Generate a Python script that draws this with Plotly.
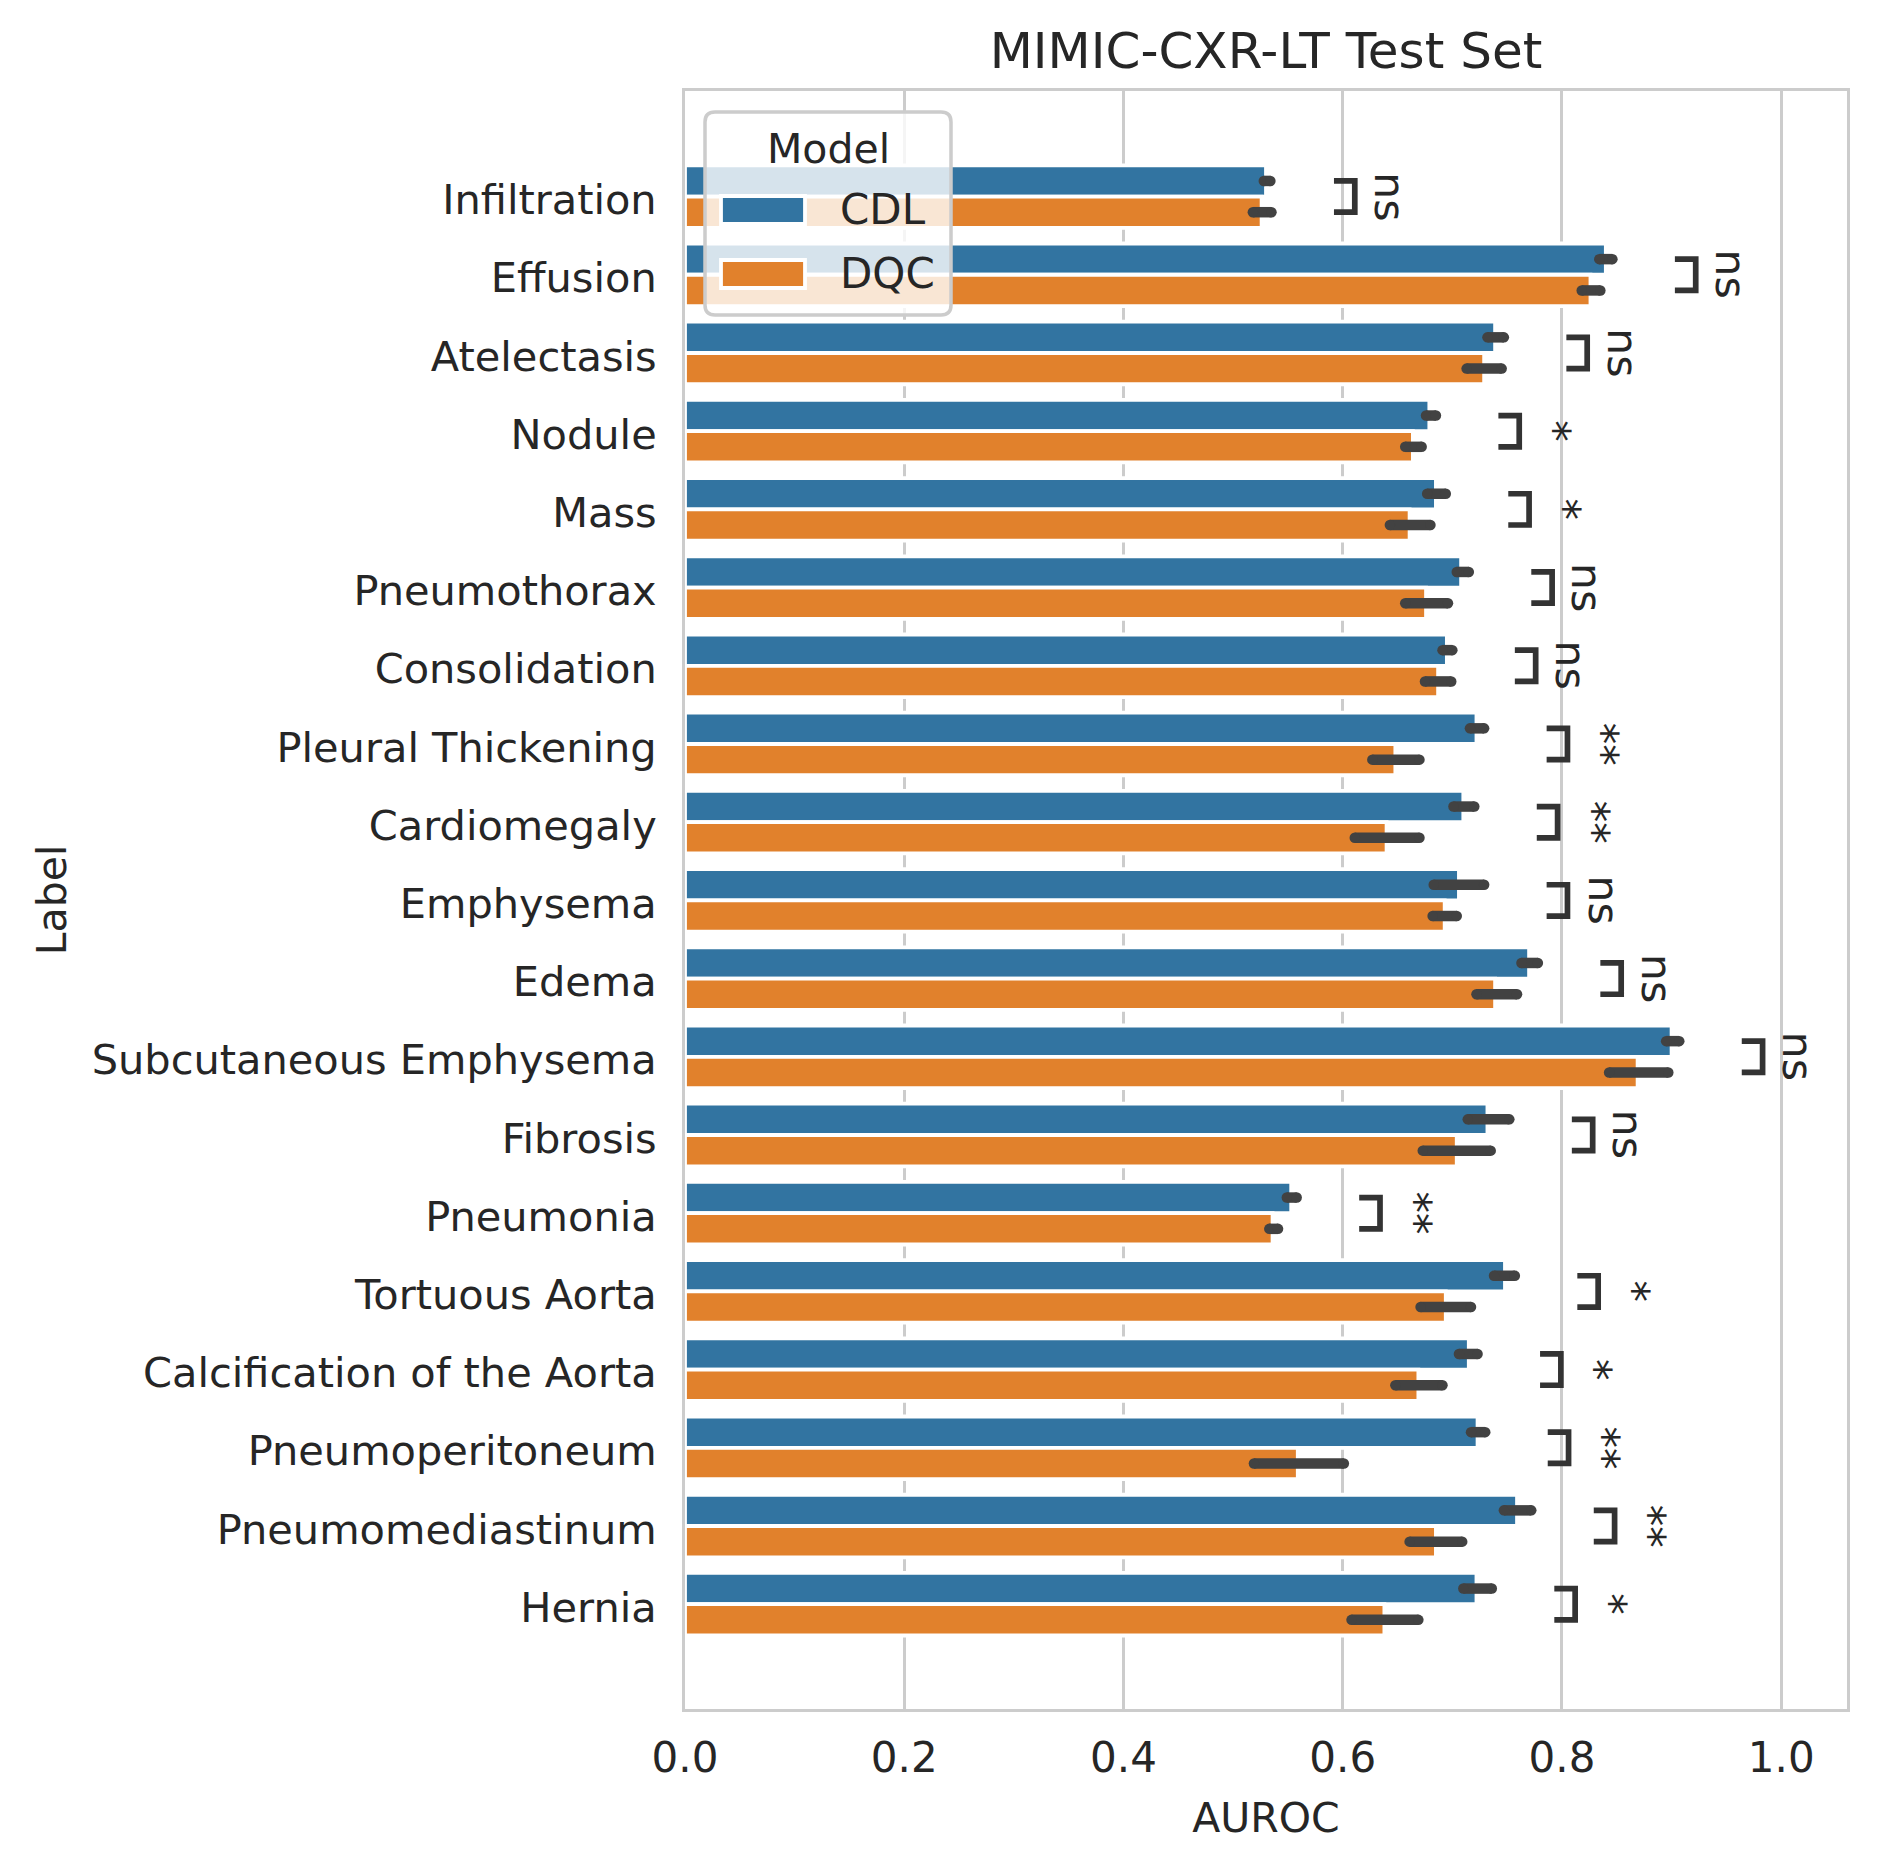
import plotly.graph_objects as go

# ---------------- data ----------------
labels = ["Infiltration", "Effusion", "Atelectasis", "Nodule", "Mass", "Pneumothorax",
          "Consolidation", "Pleural Thickening", "Cardiomegaly", "Emphysema", "Edema",
          "Subcutaneous Emphysema", "Fibrosis", "Pneumonia", "Tortuous Aorta",
          "Calcification of the Aorta", "Pneumoperitoneum", "Pneumomediastinum", "Hernia"]
models = ["CDL", "DQC"]
cdl_mean = [0.530, 0.840, 0.739, 0.679, 0.685, 0.708, 0.695, 0.722, 0.710, 0.706, 0.770,
            0.900, 0.732, 0.553, 0.748, 0.715, 0.723, 0.759, 0.722]
cdl_lo = [0.528, 0.834, 0.732, 0.676, 0.677, 0.704, 0.691, 0.716, 0.701, 0.683, 0.763,
          0.895, 0.714, 0.549, 0.738, 0.706, 0.717, 0.747, 0.710]
cdl_hi = [0.534, 0.846, 0.747, 0.685, 0.694, 0.715, 0.700, 0.729, 0.720, 0.729, 0.778,
          0.907, 0.752, 0.558, 0.757, 0.723, 0.730, 0.772, 0.736]
dqc_mean = [0.526, 0.826, 0.729, 0.664, 0.661, 0.676, 0.687, 0.648, 0.640, 0.693, 0.739,
            0.869, 0.704, 0.536, 0.694, 0.669, 0.559, 0.685, 0.638]
dqc_lo = [0.518, 0.818, 0.713, 0.657, 0.643, 0.657, 0.675, 0.627, 0.611, 0.682, 0.722,
          0.843, 0.673, 0.533, 0.671, 0.648, 0.519, 0.661, 0.608]
dqc_hi = [0.535, 0.835, 0.745, 0.672, 0.680, 0.696, 0.699, 0.670, 0.670, 0.704, 0.759,
          0.897, 0.735, 0.541, 0.717, 0.691, 0.601, 0.709, 0.669]
sig = ["ns", "ns", "ns", "*", "*", "ns", "ns", "**", "**", "ns", "ns", "ns", "ns", "**",
       "*", "*", "**", "**", "*"]
x_ticks = [0.0, 0.2, 0.4, 0.6, 0.8, 1.0]

# ---------------- geometry (page pixels; the page body has an 8px margin) ----------------
OFF = 8
W, H = 1877 - 2 * OFF, 1869 - 2 * OFF
PL, PR, PT, PB = 685 - OFF, 1847 - OFF, 91 - OFF, 1709 - OFF
ML, MR, MT, MB = PL, W - PR, PT, H - PB
BLUE, ORANGE = "#3274A1", "#E1812C"
TXT, GRID, ERR, BRK = "#262626", "#cccccc", "#424242", "#333333"
FONT = "DejaVu Sans"

pos = list(range(len(labels)))
fig = go.Figure()

for name, m, color in [(models[0], cdl_mean, BLUE), (models[1], dqc_mean, ORANGE)]:
    fig.add_trace(go.Bar(y=pos, x=m, orientation="h", name=name, showlegend=False,
                         marker=dict(color=color, line=dict(color="white", width=3.8))))

# error bars (rounded ends)
for name, lo, hi, shift in [(models[0], cdl_lo, cdl_hi, -0.2), (models[1], dqc_lo, dqc_hi, 0.2)]:
    xs, ys = [], []
    for p, a, b in zip(pos, lo, hi):
        xs += [a, b, None]
        ys += [p + shift, p + shift, None]
    fig.add_trace(go.Scatter(x=xs, y=ys, mode="lines+markers", showlegend=False,
                             line=dict(color=ERR, width=10.5),
                             marker=dict(color=ERR, size=10.5, line=dict(width=0)),
                             hoverinfo="skip", name=name + " CI"))

# significance brackets
BR_GAP, BR_H = 0.057, 0.019
bx, by = [], []
annotations = []
for p, h1, h2, s in zip(pos, cdl_hi, dqc_hi, sig):
    left = max(h1, h2) + BR_GAP
    right = left + BR_H
    bx += [left, right, right, left, None]
    by += [p - 0.2, p - 0.2, p + 0.2, p + 0.2, None]
    annotations.append(dict(x=right + 0.008, y=p, xref="x", yref="y", text=s, textangle=90,
                            showarrow=False, xanchor="left", yanchor="middle",
                            font=dict(size=43, color=TXT, family=FONT)))
fig.add_trace(go.Scatter(x=bx, y=by, mode="lines", showlegend=False, hoverinfo="skip",
                         line=dict(color=BRK, width=5.7), name="brackets"))


# ---------------- custom legend (page pixel positions -> paper) ----------------
def fx(px):
    return (px - OFF - PL) / (PR - PL)


def fy(py):
    return (PB - (py - OFF)) / (PB - PT)


def rrect(x0, y0, x1, y1, r):
    return (f"M{fx(x0 + r)},{fy(y0)} L{fx(x1 - r)},{fy(y0)} Q{fx(x1)},{fy(y0)} {fx(x1)},{fy(y0 + r)} "
            f"L{fx(x1)},{fy(y1 - r)} Q{fx(x1)},{fy(y1)} {fx(x1 - r)},{fy(y1)} "
            f"L{fx(x0 + r)},{fy(y1)} Q{fx(x0)},{fy(y1)} {fx(x0)},{fy(y1 - r)} "
            f"L{fx(x0)},{fy(y0 + r)} Q{fx(x0)},{fy(y0)} {fx(x0 + r)},{fy(y0)} Z")


shapes = [dict(type="path", xref="paper", yref="paper", path=rrect(705, 112, 951, 315, 10),
               fillcolor="rgba(255,255,255,0.8)", line=dict(color=GRID, width=3.5), layer="above")]
for (name, color), cy in zip([(models[0], BLUE), (models[1], ORANGE)], [210, 274]):
    shapes.append(dict(type="rect", xref="paper", yref="paper", x0=fx(721), x1=fx(805),
                       y0=fy(cy + 14), y1=fy(cy - 14), fillcolor=color,
                       line=dict(color="white", width=3.8), layer="above"))
    annotations.append(dict(x=fx(838), y=fy(cy), xref="paper", yref="paper", text=name,
                            showarrow=False, xanchor="left", yanchor="middle",
                            font=dict(size=42, color=TXT, family=FONT)))
annotations.append(dict(x=fx(828), y=fy(149), xref="paper", yref="paper", text="Model",
                        showarrow=False, xanchor="center", yanchor="middle",
                        font=dict(size=41, color=TXT, family=FONT)))

fig.update_layout(
    width=W, height=H,
    margin=dict(l=ML, r=MR, t=MT, b=MB, autoexpand=False),
    paper_bgcolor="white", plot_bgcolor="white",
    barmode="group", bargap=0.2, bargroupgap=0,
    font=dict(family=FONT, color=TXT, size=42),
    title=dict(text="MIMIC-CXR-LT Test Set", x=(PL + PR) / 2 / W, xanchor="center",
               y=1 - (50 - OFF) / H, yanchor="middle", font=dict(size=50, color=TXT, family=FONT)),
    showlegend=False,
    shapes=shapes,
    annotations=annotations,
)
fig.update_xaxes(range=[0, 1.06], tickvals=x_ticks, tickformat=".1f", showgrid=True,
                 gridcolor=GRID, gridwidth=3, showline=True, linecolor=GRID, linewidth=3,
                 mirror=True, zeroline=False, ticks="", tickfont=dict(size=42, color=TXT),
                 ticklabelstandoff=10,
                 title=dict(text="AUROC", font=dict(size=41, color=TXT), standoff=22))
fig.update_yaxes(range=[19.34, -1.35], tickvals=pos, ticktext=labels, showgrid=False,
                 showline=True, linecolor=GRID, linewidth=3, mirror=True, zeroline=False,
                 ticks="", tickfont=dict(size=41.5, color=TXT), ticklabelstandoff=17,
                 ticklabelshift=-3,
                 title=dict(text="Label", font=dict(size=41, color=TXT), standoff=13))

fig.write_html("out.html")
